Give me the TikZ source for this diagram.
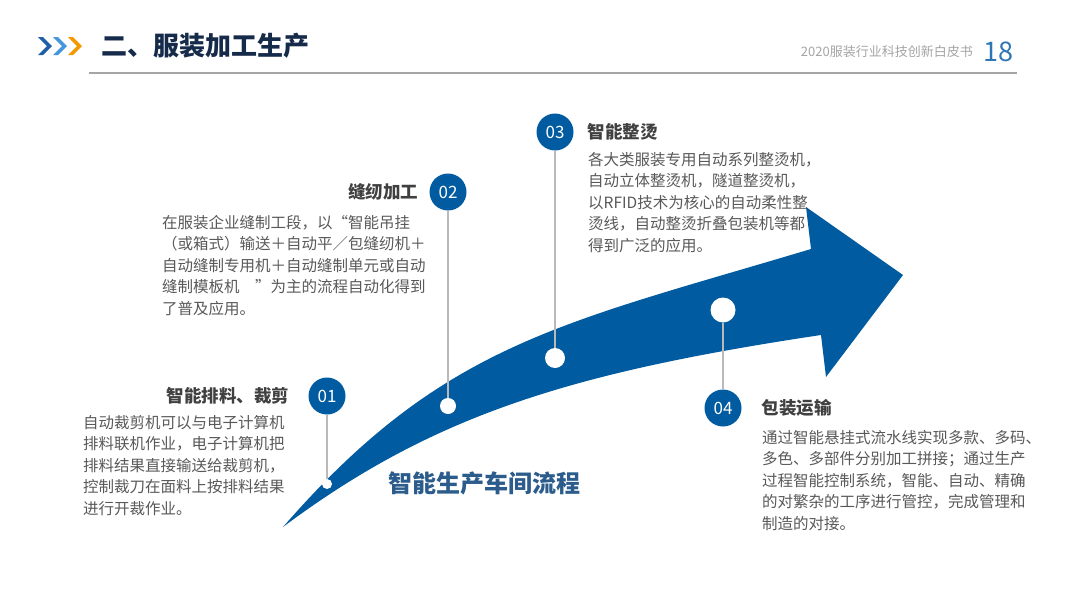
\documentclass[tikz,border=0pt]{standalone}
\usepackage{fontspec}
\setmainfont{Noto Sans CJK SC}
\usepackage{tikz}
\usetikzlibrary{positioning}

\definecolor{mainblue}{RGB}{0,91,160}
\definecolor{stemgray}{RGB}{185,185,185}
\definecolor{textgray}{RGB}{89,89,89}
\definecolor{titlegray}{RGB}{64,64,64}
\definecolor{navy}{RGB}{22,42,74}
\definecolor{labelblue}{RGB}{43,92,140}
\definecolor{chevblue}{RGB}{31,95,168}
\definecolor{chevlight}{RGB}{70,150,220}
\definecolor{chevorange}{RGB}{243,152,0}
\definecolor{pagegray}{RGB}{165,165,165}
\definecolor{pageblue}{RGB}{46,117,182}

\begin{document}
\begin{tikzpicture}[x=1pt, y=-1pt,
    numcircle/.style={circle, fill=mainblue, text=white, minimum size=37pt, inner sep=0pt, font=\fontsize{17}{17}\selectfont},
    dot/.style={circle, fill=white, inner sep=0pt},
    stem/.style={draw=stemgray, line width=1.5pt},
    heading/.style={font=\fontsize{17.5}{20}\selectfont\bfseries, text=titlegray, inner sep=0pt},
    body/.style={font=\fontsize{15.5}{21.5}\selectfont, text=textgray, align=left, inner sep=0pt, anchor=north west}
]
\useasboundingbox (0,0) rectangle (1080,608);
\fill[white] (0,0) rectangle (1080,608);

% --- HEADER ---
\fill[chevblue] (38,37) -- (43,37) -- (52,46) -- (43,55) -- (38,55) -- (47,46) -- cycle;
\fill[chevlight] (53,37) -- (58,37) -- (67,46) -- (58,55) -- (53,55) -- (62,46) -- cycle;
\fill[chevorange] (68,37) -- (73,37) -- (82,46) -- (73,55) -- (68,55) -- (77,46) -- cycle;
\node[anchor=west, inner sep=0pt, font=\fontsize{26}{26}\selectfont\bfseries, text=navy] (title) at (101,46) {二、服装加工生产};
\node[anchor=east, inner sep=0pt, font=\fontsize{13}{13}\selectfont, text=pagegray] (sub) at (973,52) {2020服装行业科技创新白皮书};
\node[inner sep=0pt, font=\fontsize{27}{27}\selectfont, text=pageblue, right=10pt of sub] (page) {18};
\draw[pagegray, line width=2pt] (89,73) -- (1017,73);

% --- BIG ARROW ---
\fill[mainblue] (283,527) .. controls (443,343) and (561,324) .. (811,249)
    -- (806,207) -- (903,275) -- (826,377) -- (821,335)
    .. controls (571,372.5) and (433,415) .. (283,527) -- cycle;

\node[font=\fontsize{24}{24}\selectfont\bfseries, text=labelblue] (flow) at (484,483) {智能生产车间流程};

% --- STEPS ---
\node[dot, minimum size=10pt] (d1) at (327,484) {};
\node[dot, minimum size=16pt] (d2) at (448,406) {};
\node[dot, minimum size=20pt] (d3) at (555,358) {};
\node[dot, minimum size=25pt] (d4) at (723,310) {};

\node[numcircle] (n1) at (327,396) {01};
\node[numcircle] (n2) at (448,192) {02};
\node[numcircle] (n3) at (555,132) {03};
\node[numcircle] (n4) at (723,408) {04};

\draw[stem] (n1) -- (d1);
\draw[stem] (n2) -- (d2);
\draw[stem] (n3) -- (d3);
\draw[stem] (d4) -- (n4);

% --- TEXTS ---
\node[heading, left=19pt of n1] (t1) {智能排料、裁剪};
\node[heading, left=11pt of n2] (t2) {缝纫加工};
\node[heading, right=14pt of n3] (t3) {智能整烫};
\node[heading, right=20pt of n4] (t4) {包装运输};

\node[body] (b1) at (83,415) {自动裁剪机可以与电子计算机\\排料联机作业，电子计算机把\\排料结果直接输送给裁剪机，\\控制裁刀在面料上按排料结果\\进行开裁作业。};
\node[body] (b2) at (162,215) {在服装企业缝制工段，以“智能吊挂\\（或箱式）输送＋自动平／包缝纫机＋\\自动缝制专用机＋自动缝制单元或自动\\缝制模板机　”为主的流程自动化得到\\了普及应用。};
\node[body] (b3) at (588,152) {各大类服装专用自动系列整烫机，\\自动立体整烫机，隧道整烫机，\\以RFID技术为核心的自动柔性整\\烫线，自动整烫折叠包装机等都\\得到广泛的应用。};
\node[body] (b4) at (762,430) {通过智能悬挂式流水线实现多款、多码、\\多色、多部件分别加工拼接；通过生产\\过程智能控制系统，智能、自动、精确\\的对繁杂的工序进行管控，完成管理和\\制造的对接。};
\end{tikzpicture}
\end{document}
